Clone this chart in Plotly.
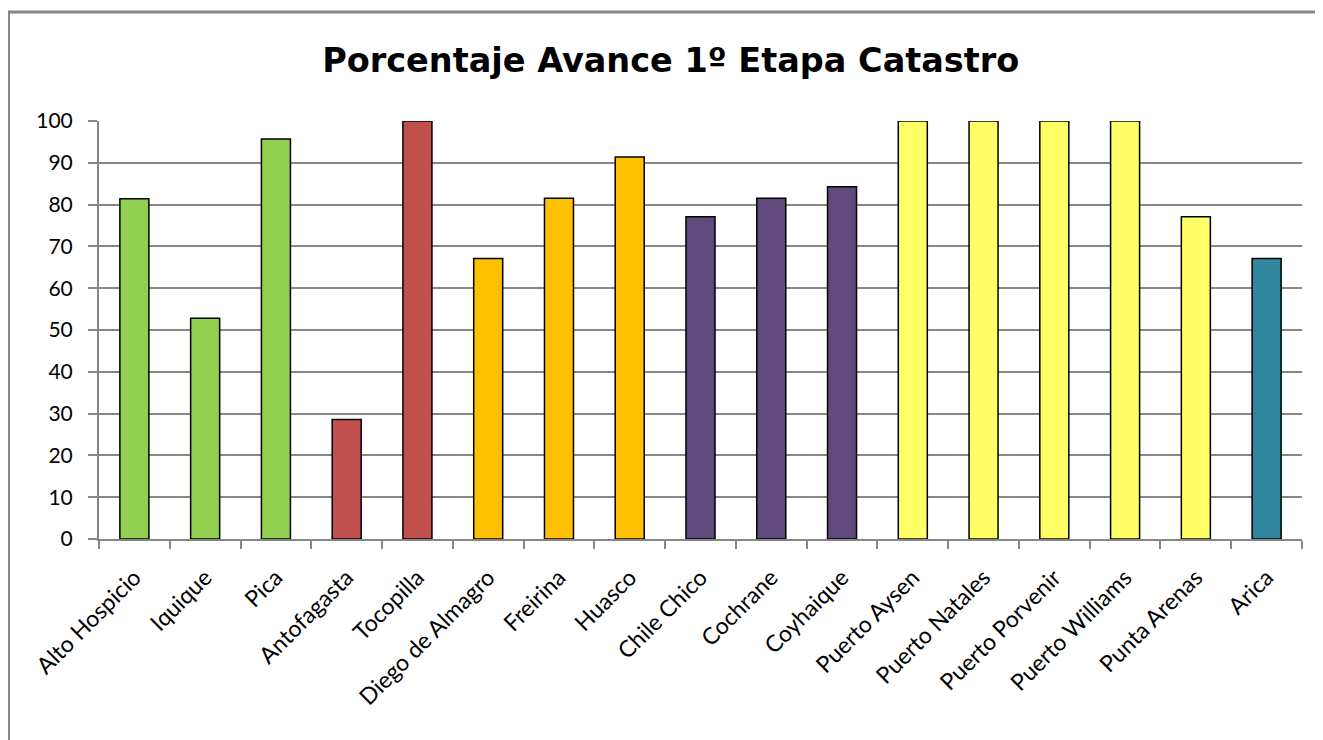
import plotly.graph_objects as go

categories = ["Alto Hospicio", "Iquique", "Pica", "Antofagasta", "Tocopilla",
              "Diego de Almagro", "Freirina", "Huasco", "Chile Chico", "Cochrane",
              "Coyhaique", "Puerto Aysen", "Puerto Natales", "Puerto Porvenir",
              "Puerto Williams", "Punta Arenas", "Arica"]
values = [81.4, 52.8, 95.7, 28.6, 100, 67.1, 81.5, 91.4, 77.1, 81.5,
          84.3, 100, 100, 100, 100, 77.1, 67.1]
bar_colors = ["#92D050", "#92D050", "#92D050", "#C0504D", "#C0504D",
              "#FFC000", "#FFC000", "#FFC000", "#604A7B", "#604A7B",
              "#604A7B", "#FFFF66", "#FFFF66", "#FFFF66", "#FFFF66",
              "#FFFF66", "#31859C"]
y_ticks = [0, 10, 20, 30, 40, 50, 60, 70, 80, 90, 100]
title = "Porcentaje Avance 1º Etapa Catastro"

FONT = "Lato, 'Open Sans', sans-serif"
W, H = 1315, 732
L, R, T, B = 91, 21, 113, 201
PW, PH = W - L - R, H - T - B

def px_x(x):
    return (x - L) / PW

def px_y(y):
    return 1 - (y - T) / PH

fig = go.Figure(go.Bar(
    x=categories, y=values,
    marker=dict(color=bar_colors, line=dict(color="#000000", width=1.5)),
    width=0.41,
))

fig.update_layout(
    width=W, height=H,
    paper_bgcolor="white", plot_bgcolor="white",
    margin=dict(l=L, r=R, t=T, b=B),
    showlegend=False,
    title=dict(text=f"<b>{title}</b>", x=0.504, xanchor="center", y=1 - 52 / H, yanchor="middle",
               font=dict(family="'DejaVu Sans', sans-serif", size=33.5, color="#000000")),
    font=dict(family=FONT, color="#000000"),
)
fig.update_xaxes(
    tickangle=-45, tickfont=dict(size=23, color="#000000"),
    showline=True, linecolor="#868686", linewidth=2,
    ticks="outside", ticklen=8, tickcolor="#868686", tickwidth=2,
    tickson="boundaries", showgrid=False,
    ticklabelstandoff=14,
)
fig.update_yaxes(
    range=[0, 100], tickvals=y_ticks, tickfont=dict(size=21, color="#000000"),
    showline=True, linecolor="#868686", linewidth=2,
    ticks="outside", ticklen=9, tickcolor="#868686", tickwidth=2,
    showgrid=True, gridcolor="#868686", gridwidth=2, zeroline=False,
    ticklabelstandoff=11,
)
# chart frame (left and top edges visible)
fig.add_shape(type="line", xref="paper", yref="paper",
              x0=px_x(0.5), x1=px_x(0.5), y0=px_y(H), y1=px_y(4),
              line=dict(color="#868686", width=3), layer="below")
fig.add_shape(type="line", xref="paper", yref="paper",
              x0=px_x(0), x1=px_x(W), y0=px_y(4), y1=px_y(4),
              line=dict(color="#868686", width=3), layer="below")

fig.write_html("out.html")
